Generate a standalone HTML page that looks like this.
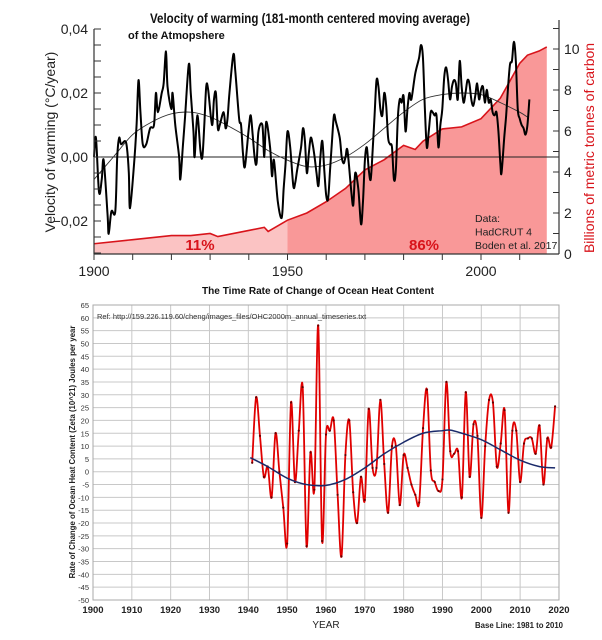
<!DOCTYPE html>
<html><head><meta charset="utf-8"><style>
body{margin:0;background:#fff;}
svg{display:block;font-family:"Liberation Sans",sans-serif;}
</style></head><body>
<svg id="s" width="602" height="640" viewBox="0 0 602 640">
<g id="top"></g>
<g id="bot"></g>
</svg>
<script>
// ---- top chart data ----
const warmYears=[1900,1900.5,1901.3,1902,1902.5,1903.5,1903.8,1904.5,1905.5,1906,1906.5,1907,1908,1908.5,1909,1909.3,1910.3,1911,1911.5,1912,1912.6,1913.5,1914.5,1915.5,1916,1916.5,1917.5,1918,1918.6,1919,1920,1920.3,1921,1922,1922.3,1923,1923.5,1924.5,1925,1925.7,1926,1926.7,1927.5,1928,1928.5,1929,1929.5,1930.5,1931,1931.5,1932,1932.5,1933.5,1934,1934.5,1935,1936,1936.5,1937.5,1938,1938.5,1939,1940,1940.5,1941,1941.5,1942,1942.5,1943.5,1944,1944.5,1945.5,1946,1946.5,1947.5,1948.5,1949,1949.5,1950,1950.7,1951.5,1952,1952.5,1953.5,1954,1954.5,1955,1955.5,1956,1956.5,1957,1957.5,1958,1958.5,1959,1959.5,1960,1960.5,1961,1961.5,1962,1962.5,1963.5,1964,1964.5,1965,1965.5,1966.5,1967,1967.5,1968.3,1969,1969.5,1970,1970.5,1971,1971.5,1972,1972.5,1973,1973.5,1974,1974.5,1975,1975.5,1976,1976.5,1977,1977.5,1978,1978.5,1979,1979.5,1980,1980.5,1981,1981.5,1982,1983,1984,1984.5,1985,1985.5,1986,1986.5,1987,1987.5,1988,1988.5,1989,1989.5,1990,1990.5,1991,1991.5,1992,1992.5,1993,1993.5,1994,1994.5,1995,1995.5,1996,1996.5,1997,1997.5,1998,1998.5,1999,1999.5,2000,2000.5,2001,2001.5,2002,2002.5,2003,2003.5,2004,2004.5,2005,2005.3,2006,2006.5,2007,2007.5,2008,2008.5,2009,2009.5,2010,2010.5,2011,2011.5,2012,2012.5];
const warmVals=[0.000,0.006,-0.011,-0.007,-0.001,-0.018,-0.024,-0.017,-0.017,0.000,0.006,0.004,0.005,0.003,-0.005,-0.016,-0.003,0.010,0.024,0.014,0.004,0.004,0.009,0.010,0.020,0.014,0.020,0.023,0.033,0.022,0.015,0.020,0.010,0.000,-0.007,0.004,0.012,0.029,0.020,0.008,0.000,0.013,0.002,0.000,0.010,0.022,0.021,0.010,0.018,0.020,0.009,0.010,0.014,0.009,0.012,0.020,0.032,0.027,0.012,0.010,0.001,-0.003,0.009,0.013,0.007,0.000,-0.002,0.008,0.010,0.000,0.011,0.003,-0.006,-0.001,-0.014,-0.019,-0.010,-0.002,0.008,0.003,-0.009,-0.008,-0.004,0.003,0.009,0.005,-0.005,0.001,0.006,0.004,0.000,-0.005,-0.009,0.000,0.005,-0.004,-0.012,-0.013,-0.004,0.005,0.013,0.011,0.006,0.000,-0.002,0.000,0.002,-0.011,-0.015,-0.005,-0.010,-0.021,-0.014,-0.001,0.003,-0.004,-0.007,0.002,0.013,0.024,0.022,0.015,0.013,0.020,0.016,0.006,0.004,0.003,-0.007,-0.004,0.012,0.018,0.017,0.019,0.008,0.015,0.020,0.018,0.026,0.031,0.035,0.031,0.015,0.003,0.008,0.014,0.014,0.013,0.013,0.003,0.010,0.015,0.025,0.028,0.024,0.018,0.022,0.024,0.023,0.018,0.030,0.022,0.017,0.020,0.024,0.023,0.018,0.016,0.019,0.023,0.018,0.021,0.022,0.017,0.021,0.017,0.018,0.014,0.013,0.014,0.008,-0.002,-0.005,0.006,0.013,0.022,0.029,0.030,0.036,0.030,0.015,0.012,0.010,0.009,0.007,0.010,0.018];
const trendYears=[1900,1905,1910,1915,1920,1925,1930,1935,1940,1945,1950,1955,1960,1965,1970,1975,1980,1985,1990,1995,2000,2005,2010,2012];
const trendVals=[-0.007,0.000,0.007,0.011,0.0135,0.014,0.0125,0.0095,0.006,0.002,-0.001,-0.003,-0.0025,0.000,0.004,0.009,0.014,0.018,0.0195,0.020,0.0195,0.017,0.014,0.0125];
const carbonYears=[1900,1910,1920,1925,1930,1932,1940,1944,1945,1950,1955,1960,1965,1970,1975,1980,1983,1985,1990,1995,2000,2005,2010,2012,2015,2017];
const carbonVals=[0.5,0.7,0.9,0.9,1.0,0.85,1.15,1.3,1.1,1.65,2.0,2.55,3.2,4.1,4.6,5.3,5.1,5.5,6.1,6.2,6.6,7.6,9.3,9.7,9.9,10.1];
const leftTicks=["0,04","0,02","0,00","\u22120,02"];
const leftTickVals=[0.04,0.02,0,-0.02];
const rightTicks=[0,2,4,6,8,10];
const topXTicks=[1900,1950,2000];
// ---- bottom chart data ----
const ohcYears=[];for(let y=1941;y<=2019;y++)ohcYears.push(y);
const ohcVals=[3.5,29,14,-2,2,-10,15,0,-14,-28,27,-4,16,33,-29,7.5,-7,57,-27,14.5,16,20,-9,-33,6.5,20,-8,-20,-2,-11,24.5,1.5,1.5,28,3,-16,10,10,-13,6.5,1.5,-5,-9,-12,17,32,0.5,-4,-7.5,-3,35,8,7,8,-10,31,-2,18.5,14,-18,10,28,27,2,11,24,-16,16,16,-4,11,13,13,7,18,-5,13,9.5,25.5];
const fitYears=[1940.5,1945,1950,1955,1960,1965,1970,1975,1980,1985,1990,1992,1995,2000,2005,2010,2015,2019];
const fitVals=[5.5,2,-2.5,-5,-5.3,-3,1.5,7,11.5,15,16,16.2,15,12.5,8.5,4.5,2,1.5];
const botYTicks=[];for(let v=65;v>=-50;v-=5)botYTicks.push(v);
const botXTicks=[1900,1910,1920,1930,1940,1950,1960,1970,1980,1990,2000,2010,2020];

const NS="http://www.w3.org/2000/svg";
function mk(parent,tag,attrs,text){const e=document.createElementNS(NS,tag);for(const k in attrs)e.setAttribute(k,attrs[k]);if(text!==undefined)e.textContent=text;parent.appendChild(e);return e;}
function smooth(pts){let d="M"+pts[0][0].toFixed(2)+","+pts[0][1].toFixed(2);for(let i=0;i<pts.length-1;i++){const p0=pts[Math.max(0,i-1)],p1=pts[i],p2=pts[i+1],p3=pts[Math.min(pts.length-1,i+2)];const c1=[p1[0]+(p2[0]-p0[0])/6,p1[1]+(p2[1]-p0[1])/6],c2=[p2[0]-(p3[0]-p1[0])/6,p2[1]-(p3[1]-p1[1])/6];d+=" C"+c1[0].toFixed(2)+","+c1[1].toFixed(2)+" "+c2[0].toFixed(2)+","+c2[1].toFixed(2)+" "+p2[0].toFixed(2)+","+p2[1].toFixed(2);}return d;}
function interp(xs,ys,x){if(x<=xs[0])return ys[0];for(let i=0;i<xs.length-1;i++){if(x<=xs[i+1]){const t=(x-xs[i])/(xs[i+1]-xs[i]);return ys[i]+t*(ys[i+1]-ys[i]);}}return ys[ys.length-1];}

// ---- TOP ----
const T=document.getElementById('top');
const tx=y=>94+(y-1900)*3.87;
const ty=v=>157-v*3200;
const tr=v=>254-v*20.5;
const L=94,R=559,B=254,TOPY=29;
// carbon fill
const cpts=carbonYears.map((y,i)=>[tx(y),tr(carbonVals[i])]);
const c1950=interp(carbonYears,carbonVals,1950);
let dLight="M"+tx(1900)+","+B;
carbonYears.forEach((y,i)=>{if(y<=1950)dLight+=" L"+tx(y)+","+tr(carbonVals[i]);});
dLight+=" L"+tx(1950)+","+tr(c1950)+" L"+tx(1950)+","+B+" Z";
let p=mk(T,'path',{d:dLight,fill:'#fbc3c3'});

let dDark="M"+tx(1950)+","+B+" L"+tx(1950)+","+tr(c1950);
carbonYears.forEach((y,i)=>{if(y>1950)dDark+=" L"+tx(y)+","+tr(carbonVals[i]);});
dDark+=" L"+tx(carbonYears[carbonYears.length-1])+","+B+" Z";
p=mk(T,'path',{d:dDark,fill:'#f99898'});

p=mk(T,'polyline',{points:cpts.map(q=>q.join(',')).join(' '),fill:'none',stroke:'#d8141b','stroke-width':1.6});

// zero line
p=mk(T,'line',{x1:L,x2:R,y1:ty(0),y2:ty(0),stroke:'#222','stroke-width':1});

// trend
p=mk(T,'path',{d:smooth(trendYears.map((y,i)=>[tx(y),ty(trendVals[i])])),fill:'none',stroke:'#333','stroke-width':0.9});

// warming
p=mk(T,'path',{d:smooth(warmYears.map((y,i)=>[tx(y),ty(warmVals[i])])),fill:'none',stroke:'#000','stroke-width':2,'stroke-linejoin':'round'});

// axes
p=mk(T,'line',{x1:L,x2:L,y1:TOPY,y2:B,stroke:'#333','stroke-width':1.2});

p=mk(T,'line',{x1:L,x2:R,y1:B,y2:B,stroke:'#333','stroke-width':1.2});

p=mk(T,'line',{x1:R,x2:R,y1:20,y2:B,stroke:'#333','stroke-width':1.2});

for(let v=0.04;v>-0.031;v-=0.005){const yy=ty(v);mk(T,'line',{x1:L,x2:L+7,y1:yy,y2:yy,stroke:'#333','stroke-width':1});}
leftTicks.forEach((s,i)=>{const t=mk(T,'text',{x:L-6,y:ty(leftTickVals[i])+5,'text-anchor':'end','font-size':14,fill:'#222'},s);
});
for(let v=0;v<=11;v++){const yy=tr(v);mk(T,'line',{x1:R-6,x2:R,y1:yy,y2:yy,stroke:'#333','stroke-width':1});}
rightTicks.forEach(v=>{const t=mk(T,'text',{x:R+5,y:tr(v)+5,'font-size':14,fill:'#222'},String(v));
});
for(let y=1900;y<=2010;y+=10){mk(T,'line',{x1:tx(y),x2:tx(y),y1:B,y2:B+6,stroke:'#333','stroke-width':1});}
topXTicks.forEach(y=>{const t=mk(T,'text',{x:tx(y),y:B+22,'text-anchor':'middle','font-size':14,fill:'#222'},String(y));
});
let t=mk(T,'text',{x:310,y:23,'text-anchor':'middle','font-size':13.5,'font-weight':'bold',fill:'#111',textLength:320,lengthAdjust:'spacingAndGlyphs'},'Velocity of warming (181-month centered moving average)');

t=mk(T,'text',{x:128,y:39,'font-size':11,'font-weight':'bold',fill:'#111'},'of the Atmopshere');

t=mk(T,'text',{x:0,y:0,transform:'translate(55,142) rotate(-90)','text-anchor':'middle','font-size':14,fill:'#222'},'Velocity of warming (°C/year)');

t=mk(T,'text',{x:0,y:0,transform:'translate(594,148) rotate(-90)','text-anchor':'middle','font-size':14,fill:'#d8141b'},'Billions of metric tonnes of carbon');

t=mk(T,'text',{x:200,y:250,'text-anchor':'middle','font-size':15,'font-weight':'bold',fill:'#d8141b'},'11%');

t=mk(T,'text',{x:424,y:250,'text-anchor':'middle','font-size':15,'font-weight':'bold',fill:'#d8141b'},'86%');

['Data:','HadCRUT 4','Boden et al. 2017'].forEach((s,i)=>{const e=mk(T,'text',{x:475,y:222+i*13.5,'font-size':10.5,fill:'#222'},s);
});
t=mk(T,'text',{x:318,y:294,'text-anchor':'middle','font-size':10,'font-weight':'bold',fill:'#111',textLength:232,lengthAdjust:'spacingAndGlyphs'},'The Time Rate of Change of Ocean Heat Content');


// ---- BOTTOM ----
const Bt=document.getElementById('bot');
const bx=y=>93+(y-1900)*3.883;
const by=v=>305+(65-v)*2.565;
const BL=93,BR=559,BT=305,BB=600;
botYTicks.forEach(v=>{const yy=by(v);mk(Bt,'line',{x1:BL,x2:BR,y1:yy,y2:yy,stroke:'#c8c8c8','stroke-width':1});
const e=mk(Bt,'text',{x:89,y:yy+3,'text-anchor':'end','font-size':7.5,fill:'#333'},String(v));
});
botXTicks.forEach(y=>{const xx=bx(y);mk(Bt,'line',{x1:xx,x2:xx,y1:BT,y2:BB,stroke:'#c8c8c8','stroke-width':1});
const e=mk(Bt,'text',{x:xx,y:BB+13,'text-anchor':'middle','font-size':9.5,'font-weight':'bold',fill:'#222'},String(y));
});
p=mk(Bt,'rect',{x:BL,y:BT,width:BR-BL,height:BB-BT,fill:'none',stroke:'#aaa','stroke-width':1});

p=mk(Bt,'path',{d:smooth(ohcYears.map((y,i)=>[bx(y),by(ohcVals[i])])),fill:'none',stroke:'#e00000','stroke-width':1.8,'stroke-linejoin':'round'});

ohcYears.forEach((y,i)=>{const c=mk(Bt,'circle',{cx:bx(y),cy:by(ohcVals[i]),r:1.1,fill:'#600'});
});
p=mk(Bt,'path',{d:smooth(fitYears.map((y,i)=>[bx(y),by(fitVals[i])])),fill:'none',stroke:'#1a2a6a','stroke-width':1.5});

t=mk(Bt,'text',{x:97,y:319,'font-size':7.5,fill:'#333'},'Ref: http://159.226.119.60/cheng/images_files/OHC2000m_annual_timeseries.txt');

t=mk(Bt,'text',{x:0,y:0,transform:'translate(75,452) rotate(-90)','text-anchor':'middle','font-size':7.8,'font-weight':'bold',fill:'#222'},'Rate of Change of Ocean Heat Content  (Zeta (10^21) Joules per year');

t=mk(Bt,'text',{x:326,y:628,'text-anchor':'middle','font-size':10,fill:'#222'},'YEAR');

t=mk(Bt,'text',{x:563,y:628,'text-anchor':'end','font-size':7.8,'font-weight':'bold',fill:'#222'},'Base Line: 1981 to 2010');

</script>
</body></html>
